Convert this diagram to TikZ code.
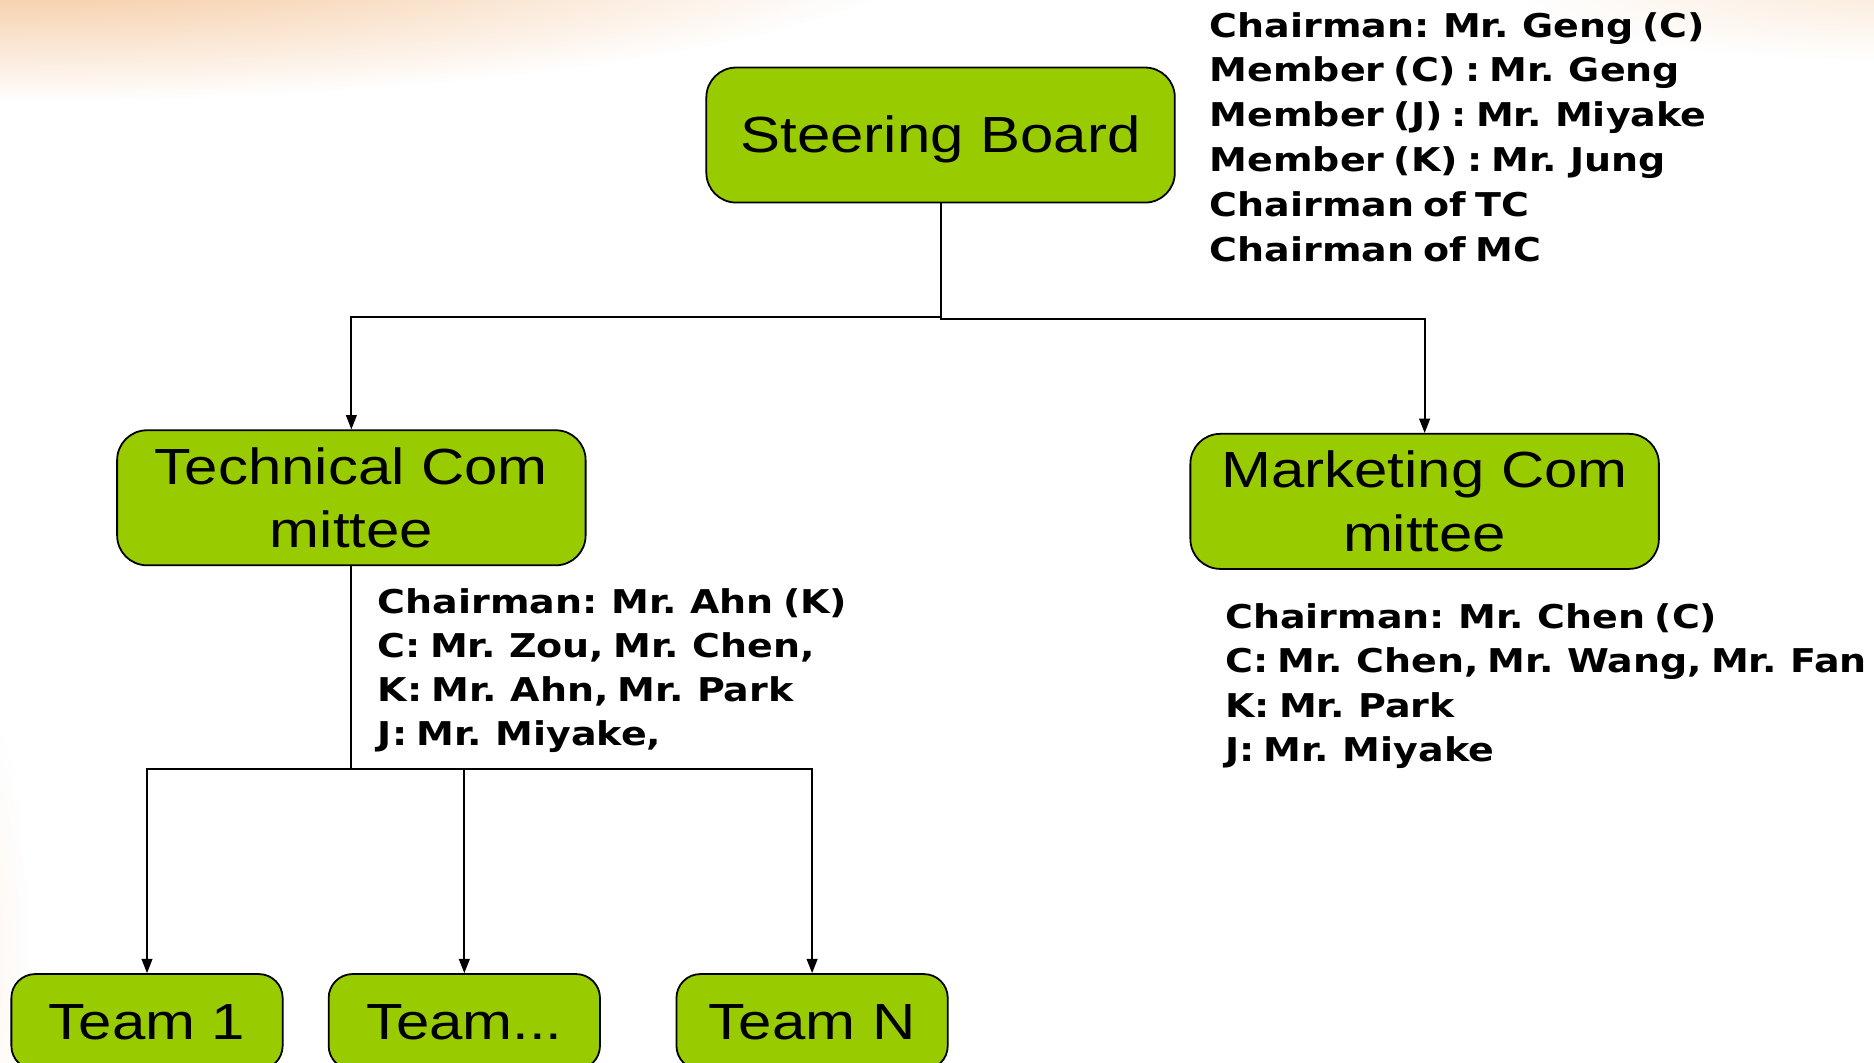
\documentclass[tikz,border=0pt]{standalone}
\usepackage{fontspec}
\setmainfont{Liberation Sans}[FakeStretch=1.18]
\newfontfamily\infofont{DejaVu Sans}[FakeStretch=1.16]
\usetikzlibrary{arrows.meta,fadings}
\definecolor{boxgreen}{HTML}{99CC00}
\definecolor{peach}{HTML}{F3BC88}
\newcommand{\infoset}{\infofont\bfseries\fontsize{27.4}{37}\selectfont\spaceskip=0.28em plus 0.1em\relax}
\tikzfading[name=glow, inner color=transparent!0, outer color=transparent!100]
\tikzset{
  gbox/.style={draw=black, line width=1.5pt, fill=boxgreen, rounded corners=25pt,
    minimum width=392pt, minimum height=113pt, inner sep=0pt, align=center,
    font=\fontsize{42.5}{53}\selectfont},
  onebox/.style={gbox, text height=30pt, text depth=0pt},
  tbox/.style={onebox, minimum width=227pt, minimum height=80pt, rounded corners=20pt},
  info/.style={anchor=base west, inner sep=0pt, font=\infoset},
  conn/.style={line width=1.6pt},
  arr/.style={conn, -{Triangle[length=12pt,width=9pt]}}
}
\begin{document}
\begin{tikzpicture}[x=1pt,y=-1pt]
\useasboundingbox (0,0) rectangle (1568,889);
\fill[white] (0,0) rectangle (1568,889);
\clip (0,0) rectangle (1568,889);
% background glow
\fill[peach, path fading=glow] (0,-45) ellipse [x radius=780, y radius=130];
\fill[peach, path fading=glow, opacity=0.3] (1568,-10) ellipse [x radius=300, y radius=60];
\fill[peach, path fading=glow, opacity=0.12] (-10,800) ellipse [x radius=35, y radius=200];

% boxes
\node[onebox] (sb) at (787,113) {Steering Board};
\node[gbox] (tc) at (294,416.5) {Technical Com\\mittee};
\node[gbox] (mc) at (1192,419.5) {Marketing Com\\mittee};
\node[tbox] (t1) at (123,855) {Team 1};
\node[tbox] (t2) at (388.5,855) {Team...};
\node[tbox] (tn) at (679.5,855) {Team N};

% connectors
\draw[arr] (sb.south) -- ++(0,95) -| (tc.north);
\draw[arr] (sb.south) -- ++(0,97) -| (mc.north);
\draw[conn] (tc.south) -- ++(0,170) coordinate (tj);
\draw[arr] (tj) -| (t1.north);
\draw[arr] (tj) -| (t2.north);
\draw[arr] (tj) -| (tn.north);

% info texts
\node[info] (s1) at (1012,31) {Chairman: Mr. Geng (C)};
\node[info] (s2) at (1012,68.5) {Member (C) : Mr. Geng};
\node[info] (s3) at (1012,106) {Member (J) : Mr. Miyake};
\node[info] (s4) at (1012,143.5) {Member (K) : Mr. Jung};
\node[info] (s5) at (1012,181) {Chairman of TC};
\node[info] (s6) at (1012,218.5) {Chairman of MC};

\node[info] (c1) at (316,513) {Chairman: Mr. Ahn (K)};
\node[info] (c2) at (316,550) {C: Mr. Zou, Mr. Chen,};
\node[info] (c3) at (316,587) {K: Mr. Ahn, Mr. Park};
\node[info] (c4) at (316,624) {J: Mr. Miyake,};

\node[info] (m1) at (1025,526) {Chairman: Mr. Chen (C)};
\node[info] (m2) at (1025,563) {C: Mr. Chen, Mr. Wang, Mr. Fan};
\node[info] (m3) at (1025,600) {K: Mr. Park};
\node[info] (m4) at (1025,637) {J: Mr. Miyake};
\end{tikzpicture}
\end{document}
